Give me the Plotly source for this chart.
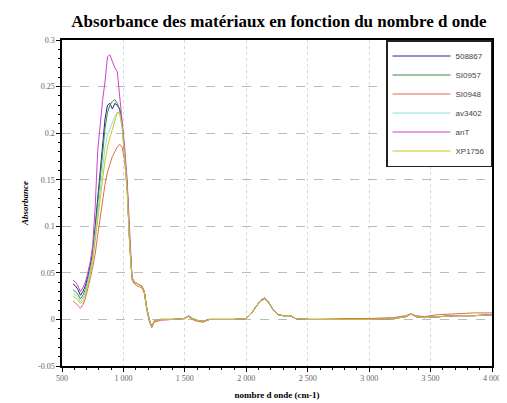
import plotly.graph_objects as go

wavenumber = [590, 610, 630, 650, 670, 690, 710, 730, 750, 770, 790, 810, 830, 850, 870, 890,
              910, 930, 950, 970, 990, 1010, 1030, 1050, 1070, 1090, 1110, 1130, 1150, 1170,
              1190, 1210, 1230, 1250, 1300, 1400, 1500, 1530, 1560, 1600, 1650, 1700, 1800,
              1900, 2000, 2040, 2080, 2120, 2150, 2180, 2220, 2260, 2300, 2360, 2400, 2500,
              2600, 2800, 3000, 3200, 3300, 3340, 3380, 3450, 3550, 3700, 3850, 4000]

tail_a = [0.045, 0.040, 0.038, 0.037, 0.036, 0.030, 0.012, 0.000, -0.008, -0.002, 0.000,
          0.000, 0.001, 0.004, 0.001, -0.001, -0.002, 0.000, 0.000, 0.000, 0.001, 0.006,
          0.014, 0.021, 0.023, 0.019, 0.010, 0.005, 0.004, 0.004, 0.001, 0.000, 0.000,
          0.000, 0.000, 0.001, 0.003, 0.006, 0.003, 0.002, 0.003, 0.004, 0.004, 0.005]
tail_b = [0.042, 0.038, 0.036, 0.035, 0.034, 0.028, 0.010, -0.002, -0.009, -0.003, -0.001,
          0.000, 0.001, 0.003, 0.000, -0.002, -0.003, 0.000, 0.000, 0.000, 0.001, 0.006,
          0.014, 0.020, 0.022, 0.018, 0.010, 0.005, 0.004, 0.004, 0.001, 0.000, 0.000,
          0.001, 0.001, 0.002, 0.004, 0.006, 0.004, 0.003, 0.005, 0.006, 0.007, 0.007]

abs_508867 = [0.038, 0.036, 0.032, 0.026, 0.030, 0.036, 0.046, 0.058, 0.072, 0.100, 0.130,
              0.160, 0.190, 0.215, 0.230, 0.232, 0.226, 0.232, 0.230, 0.226, 0.210, 0.180,
              0.145, 0.085] + tail_a
abs_SI0957 = [0.032, 0.030, 0.027, 0.022, 0.026, 0.032, 0.042, 0.054, 0.068, 0.095, 0.125,
              0.155, 0.180, 0.205, 0.222, 0.230, 0.234, 0.236, 0.232, 0.225, 0.208, 0.178,
              0.142, 0.083] + tail_a
abs_SI0948 = [0.020, 0.018, 0.015, 0.012, 0.016, 0.022, 0.032, 0.044, 0.056, 0.070, 0.090,
              0.110, 0.130, 0.145, 0.158, 0.168, 0.175, 0.180, 0.185, 0.188, 0.185, 0.170,
              0.140, 0.085] + tail_b
abs_av3402 = [0.028, 0.026, 0.024, 0.019, 0.023, 0.029, 0.040, 0.052, 0.066, 0.090, 0.115,
              0.140, 0.165, 0.185, 0.198, 0.205, 0.212, 0.218, 0.222, 0.220, 0.205, 0.175,
              0.140, 0.083] + tail_a
abs_anT = [0.042, 0.040, 0.036, 0.030, 0.034, 0.040, 0.050, 0.062, 0.080, 0.120, 0.180,
           0.210, 0.235, 0.255, 0.282, 0.284, 0.276, 0.270, 0.266, 0.240, 0.215, 0.185,
           0.150, 0.090] + tail_a
abs_XP1756 = [0.025, 0.023, 0.021, 0.017, 0.020, 0.026, 0.036, 0.048, 0.062, 0.085, 0.110,
              0.130, 0.150, 0.170, 0.185, 0.195, 0.205, 0.215, 0.222, 0.222, 0.206, 0.176,
              0.140, 0.083] + tail_a

series_names = ["508867", "SI0957", "SI0948", "av3402", "anT", "XP1756"]
series_values = [abs_508867, abs_SI0957, abs_SI0948, abs_av3402, abs_anT, abs_XP1756]
series_colors = ["#22229a", "#3c8c3c", "#e06a50", "#8ce0e0", "#cc44cc", "#c8c820"]

x_tickvals = [500, 1000, 1500, 2000, 2500, 3000, 3500, 4000]
x_ticktext = ["500", "1 000", "1 500", "2 000", "2 500", "3 000", "3 500", "4 000"]
y_tickvals = [-0.05, 0, 0.05, 0.1, 0.15, 0.2, 0.25, 0.3]
y_ticktext = ["-0.05", "0", "0.05", "0.1", "0.15", "0.2", "0.25", "0.3"]

fig = go.Figure()
for name, vals, col in zip(series_names, series_values, series_colors):
    fig.add_trace(go.Scatter(x=wavenumber, y=vals, mode="lines", name=name,
                             line=dict(color=col, width=1)))

serif = "Liberation Serif, DejaVu Serif, serif"
fig.update_layout(
    width=499, height=395,
    margin=dict(l=54, r=15, t=32, b=37, autoexpand=False),
    paper_bgcolor="white", plot_bgcolor="white",
    title=dict(text="<b>Absorbance des matériaux en fonction du nombre d onde</b>",
               x=0.543, xanchor="center", y=0.967, yanchor="middle",
               font=dict(family=serif, size=17, color="black")),
    legend=dict(x=1, xanchor="right", y=1, yanchor="top",
                bgcolor="white", bordercolor="#222", borderwidth=1.5,
                font=dict(family="Liberation Sans, sans-serif", size=8, color="#444"),
                tracegroupgap=0, itemwidth=58),
    showlegend=True,
)
fig.update_xaxes(
    range=[500, 4000], tickvals=x_tickvals, ticktext=x_ticktext, automargin=False,
    showline=True, linecolor="black", linewidth=1.5, mirror=True,
    ticks="outside", ticklen=4, tickcolor="black",
    minor=dict(ticks="outside", ticklen=2, dtick=100, tickcolor="black", showgrid=False),
    showgrid=True, gridcolor="#d8d8d8", griddash="dot", gridwidth=1,
    zeroline=False,
    tickfont=dict(family=serif, size=8, color="#666"),
    title=dict(text="<b>nombre d onde (cm-1)</b>", standoff=9,
               font=dict(family=serif, size=9, color="black")),
)
fig.update_yaxes(
    range=[-0.05, 0.3], tickvals=y_tickvals, ticktext=y_ticktext, automargin=False,
    showline=True, linecolor="black", linewidth=1.5, mirror=True,
    ticks="outside", ticklen=4, tickcolor="black",
    minor=dict(ticks="outside", ticklen=2, dtick=0.01, tickcolor="black", showgrid=False),
    showgrid=True, gridcolor="#bbbbbb", griddash="dash", gridwidth=1,
    zeroline=False,
    tickfont=dict(family=serif, size=8, color="#666"),
    title=dict(text="<b><i>Absorbance</i></b>", standoff=8,
               font=dict(family=serif, size=9, color="black")),
)

fig.write_html("out.html")
